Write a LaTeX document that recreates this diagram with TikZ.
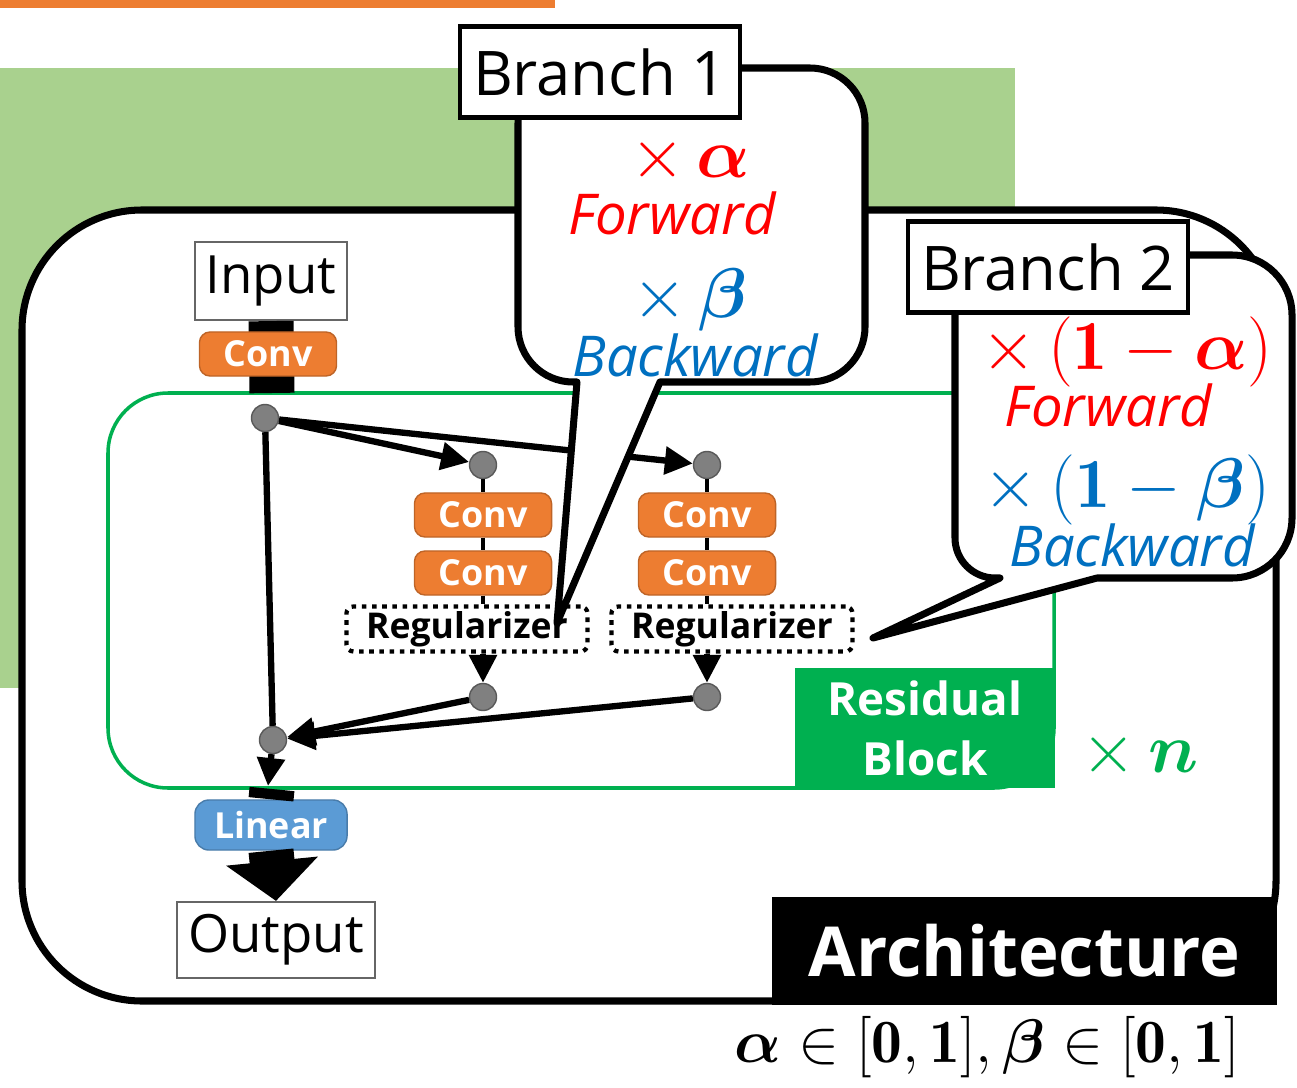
\RequirePackage{fix-cm}
\documentclass[tikz,border=0pt]{standalone}
\usepackage{fontspec}
\usepackage{amsmath,bm}
\usetikzlibrary{arrows.meta,positioning}
\newfontfamily\uifont{Open Sans}
\definecolor{convorange}{HTML}{ED7D31}
\definecolor{lineblue}{HTML}{5B9BD5}
\definecolor{resgreen}{HTML}{00B050}
\definecolor{bggreen}{HTML}{A9D18E}
\definecolor{fwdred}{HTML}{FF0000}
\definecolor{bwdblue}{HTML}{0070C0}
\definecolor{dotgray}{HTML}{808080}

\begin{document}
\begin{tikzpicture}[x=0.01cm, y=-0.01cm,
    every node/.style={font=\uifont},
    iobox/.style={draw=gray!80!black, line width=0.6pt, fill=white, minimum height=0.78cm, inner sep=0pt, font=\uifont\fontsize{15}{18}\selectfont},
    opbox/.style={rounded corners=3pt, draw=#1!80!black, line width=0.4pt, fill=#1, text=white, minimum width=1.37cm, minimum height=0.44cm, inner sep=0pt, font=\uifont\bfseries\fontsize{10.2}{12}\selectfont},
    regbox/.style={draw, line width=1.2pt, dash pattern=on 1.3pt off 1.6pt, rounded corners=2pt, fill=white, minimum width=2.41cm, minimum height=0.45cm, inner sep=0pt, font=\uifont\bfseries\fontsize{10.1}{12}\selectfont},
    joint/.style={circle, fill=dotgray, draw=gray!70!black, line width=0.4pt, minimum size=0.27cm, inner sep=0pt},
    flow/.style={line width=1.8pt, -{Triangle[length=0.28cm,width=0.27cm]}},
    link/.style={line width=1.2pt},
    thickbar/.style={line width=12.8pt},
    bubble/.style={draw, line width=2pt, fill=white, line join=round},
    branchtag/.style={draw, line width=1.2pt, fill=white, minimum width=2.8cm, minimum height=0.91cm, inner sep=0pt, font=\uifont\fontsize{17.5}{20}\selectfont},
    fwd/.style={text=fwdred, font=\uifont\itshape\fontsize{16}{19}\selectfont},
    bwd/.style={text=bwdblue, font=\uifont\itshape\fontsize{16}{19}\selectfont},
    factor/.style={text=#1, font=\fontsize{20}{24}\selectfont, inner sep=0pt},
]
\useasboundingbox (0,0) rectangle (1297,1088);
% Background panels
\fill[convorange] (0,0) rectangle (555,8);
\fill[bggreen] (0,68) rectangle (1015,688);
% Architecture frame
\draw[line width=2pt, fill=white, rounded corners=1.2cm] (22,210) rectangle (1276,1001);
\node[fill=black, text=white, minimum width=5.05cm, minimum height=1.08cm, inner sep=0pt, font=\uifont\bfseries\fontsize{19.6}{22}\selectfont] (archtag) at (1024.5,951) {Architecture};
\node[font=\fontsize{17.5}{21}\selectfont] (range) at (987,1047) {$\bm{\alpha}\in[\mathbf{0},\mathbf{1}],\bm{\beta}\in[\mathbf{0},\mathbf{1}]$};
% Residual block outline
\draw[resgreen, line width=1pt, rounded corners=0.6cm] (108,393) rectangle (1054,788);
\node[fill=resgreen, text=white, minimum width=2.6cm, minimum height=1.2cm, inner sep=0pt, align=center, font=\uifont\bfseries\fontsize{13}{17}\selectfont] (resblock) at (925,728) {Residual\\Block};
\node[factor=resgreen] (times) at (1140,755) {$\times\,\bm{n}$};
% Input side
\node[iobox, minimum width=1.52cm] (input) at (271,281) {Input};
\coordinate (rtop) at (272,393);
\draw[thickbar] (input.south) -- (rtop);
\node[opbox=convorange] (conv0) at (268,354) {Conv};
\node[joint] (split) at (265,418) {};
\node[joint] (merge) at (273,740) {};
% Two branches
\foreach \b/\x/\r in {1/483/467, 2/707/732} {
  \node[joint] (b\b in) at (\x,465) {};
  \node[opbox=convorange] (b\b c1) at (\x,515) {Conv};
  \node[opbox=convorange] (b\b c2) at (\x,573) {Conv};
  \node[regbox] (b\b reg) at (\r,629) {Regularizer};
  \node[joint] (b\b out) at (\x,697) {};
  \draw[link] (b\b in) -- (b\b c1);
  \draw[link] (b\b c1) -- (b\b c2);
  \draw[link] (b\b c2.south) -- (b\b c2.south |- b\b reg.north);
  \draw[flow] (b\b reg.south -| b\b out) -- (b\b out);
  \draw[flow] (split) -- (b\b in);
  \draw[flow] (b\b out) -- (merge);
}
\draw[line width=1.8pt] (split) -- (merge);
% Output side
\coordinate (rbot) at (268,786);
\draw[flow] (merge) -- (rbot);
\node[opbox=lineblue, minimum width=1.52cm, minimum height=0.5cm, rounded corners=4pt] (linear) at (271,825) {Linear};
\node[iobox, minimum width=1.98cm, minimum height=0.76cm] (output) at (276,940) {Output};
\draw[thickbar] (272,789) -- (linear.north);
\draw[thickbar, -{Triangle[length=0.4cm,width=0.9cm]}] (linear.south) -- (output.north);
% Branch 1 callout
\path[bubble] (691,68) [rounded corners=0.55cm] -- (518,68) -- (518,382) [sharp corners] -- (577,382) -- (557,623) -- (660,382) [rounded corners=0.55cm] -- (865,382) -- (865,68) -- cycle;
\node[branchtag] (branch1) at (600,72) {Branch 1};
\node[factor=fwdred] (b1alpha) at (690,160) {$\times\,\bm{\alpha}$};
\node[fwd] (b1fwd) at (672,213) {Forward};
\node[factor=bwdblue] (b1beta) at (690,300) {$\times\,\bm{\beta}$};
\node[bwd] (b1bwd) at (695,355) {Backward};
% Branch 2 callout
\path[bubble] (1125,255) [rounded corners=0.6cm] -- (955,255) [rounded corners=0.4cm] -- (955,578) [sharp corners] -- (1000,578) -- (873,638) -- (1097,578) [rounded corners=0.6cm] -- (1292,578) -- (1292,255) -- cycle;
\node[branchtag] (branch2) at (1048,267) {Branch 2};
\node[factor=fwdred] (b2alpha) at (1127,352) {$\times\,(\mathbf{1}-\bm{\alpha})$};
\node[fwd] (b2fwd) at (1108,405) {Forward};
\node[factor=bwdblue] (b2beta) at (1127,490) {$\times\,(\mathbf{1}-\bm{\beta})$};
\node[bwd] (b2bwd) at (1132,545) {Backward};
\end{tikzpicture}
\end{document}
